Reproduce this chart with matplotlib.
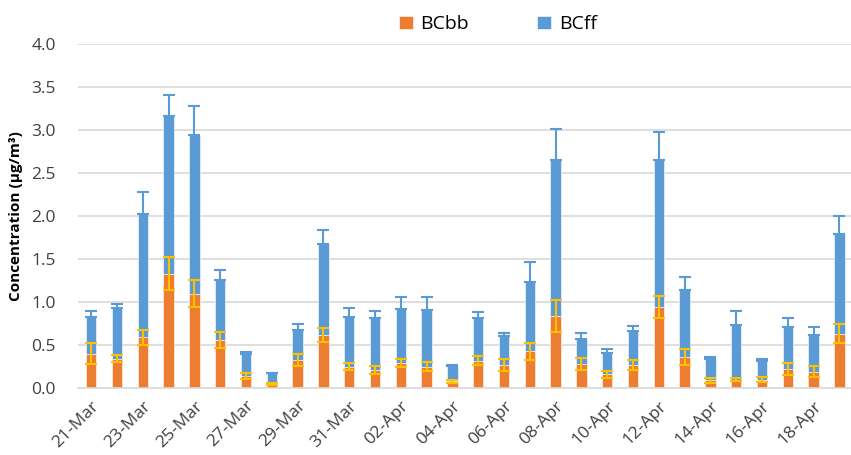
import numpy as np
import matplotlib.pyplot as plt

plt.rcParams['font.family'] = ['Open Sans', 'DejaVu Sans']

dates = ['21-Mar', '22-Mar', '23-Mar', '24-Mar', '25-Mar', '26-Mar', '27-Mar',
         '28-Mar', '29-Mar', '30-Mar', '31-Mar', '01-Apr', '02-Apr', '03-Apr',
         '04-Apr', '05-Apr', '06-Apr', '07-Apr', '08-Apr', '09-Apr', '10-Apr',
         '11-Apr', '12-Apr', '13-Apr', '14-Apr', '15-Apr', '16-Apr', '17-Apr',
         '18-Apr', '19-Apr']
bcbb = [0.40, 0.34, 0.59, 1.33, 1.10, 0.56, 0.14, 0.05, 0.33, 0.62,
        0.25, 0.21, 0.29, 0.25, 0.08, 0.32, 0.27, 0.43, 0.84, 0.28,
        0.16, 0.27, 0.94, 0.36, 0.09, 0.10, 0.10, 0.22, 0.19, 0.63]
bcff = [0.43, 0.59, 1.43, 1.83, 1.84, 0.70, 0.26, 0.12, 0.34, 1.06,
        0.58, 0.60, 0.63, 0.66, 0.18, 0.49, 0.34, 0.80, 1.81, 0.29,
        0.25, 0.39, 1.71, 0.78, 0.25, 0.63, 0.21, 0.49, 0.43, 1.16]
bcbb_err = [0.12, 0.04, 0.09, 0.19, 0.16, 0.09, 0.03, 0.01, 0.07, 0.08,
            0.04, 0.045, 0.05, 0.05, 0.02, 0.05, 0.07, 0.10, 0.19, 0.07,
            0.04, 0.06, 0.13, 0.09, 0.025, 0.02, 0.025, 0.07, 0.065, 0.11]
bcff_err = [0.07, 0.05, 0.26, 0.25, 0.34, 0.11, 0.02, 0.0, 0.07, 0.16,
            0.10, 0.09, 0.14, 0.15, 0.01, 0.07, 0.03, 0.24, 0.36, 0.07,
            0.05, 0.06, 0.33, 0.15, 0.02, 0.17, 0.03, 0.10, 0.09, 0.21]

x = np.arange(len(dates))
bb = np.array(bcbb)
ff = np.array(bcff)
orange, blue, gold = '#ED7D31', '#5B9BD5', '#FFC000'

fig = plt.figure(figsize=(8.51, 4.55), dpi=100)
ax = fig.add_axes([0.092, 0.147, 0.908, 0.756])

w = 0.4
ax.bar(x, bb, w, color=orange, edgecolor='white', linewidth=0.4, label='BCbb', zorder=2)
ax.bar(x, ff, w, bottom=bb, color=blue, edgecolor='white', linewidth=0.4, label='BCff', zorder=2)
# upper error on the total, symmetric error on the biomass part
ax.errorbar(x, bb + ff, yerr=[np.zeros_like(ff), bcff_err], fmt='none',
            ecolor=blue, elinewidth=1.5, capsize=4, capthick=1.5, zorder=3)
ax.errorbar(x, bb, yerr=bcbb_err, fmt='none',
            ecolor=gold, elinewidth=1.5, capsize=4.5, capthick=1.5, zorder=4)

ax.set_ylim(0, 4.0)
ax.set_xlim(-0.5, 29.45)
ax.set_yticks(np.arange(0, 4.01, 0.5))
ax.set_yticklabels([f'{v:.1f}' for v in np.arange(0, 4.01, 0.5)], fontsize=12.5, color='#404040')
ax.set_xticks(x[::2])
ax.set_xticklabels(dates[::2], rotation=45, ha='right', rotation_mode='anchor',
                   fontsize=12.5, color='#404040')
ax.tick_params(axis='y', length=0, pad=16)
ax.tick_params(axis='x', length=0, pad=7)
ax.grid(axis='y', color='#D9D9D9', linewidth=1.2, zorder=0)
ax.set_axisbelow(True)
for s in ['top', 'right', 'left']:
    ax.spines[s].set_visible(False)
ax.spines['bottom'].set_color('#D9D9D9')
ax.spines['bottom'].set_linewidth(1.2)
ax.set_ylabel('Concentration (µg/m³)', fontsize=11, fontweight='bold', labelpad=6)

fig.legend(loc='upper center', bbox_to_anchor=(0.585, 1.005), ncol=2, frameon=False,
           fontsize=14, handlelength=0.7, handleheight=0.7, columnspacing=3.5,
           handletextpad=0.4)

fig.savefig('out.png', dpi=100)
